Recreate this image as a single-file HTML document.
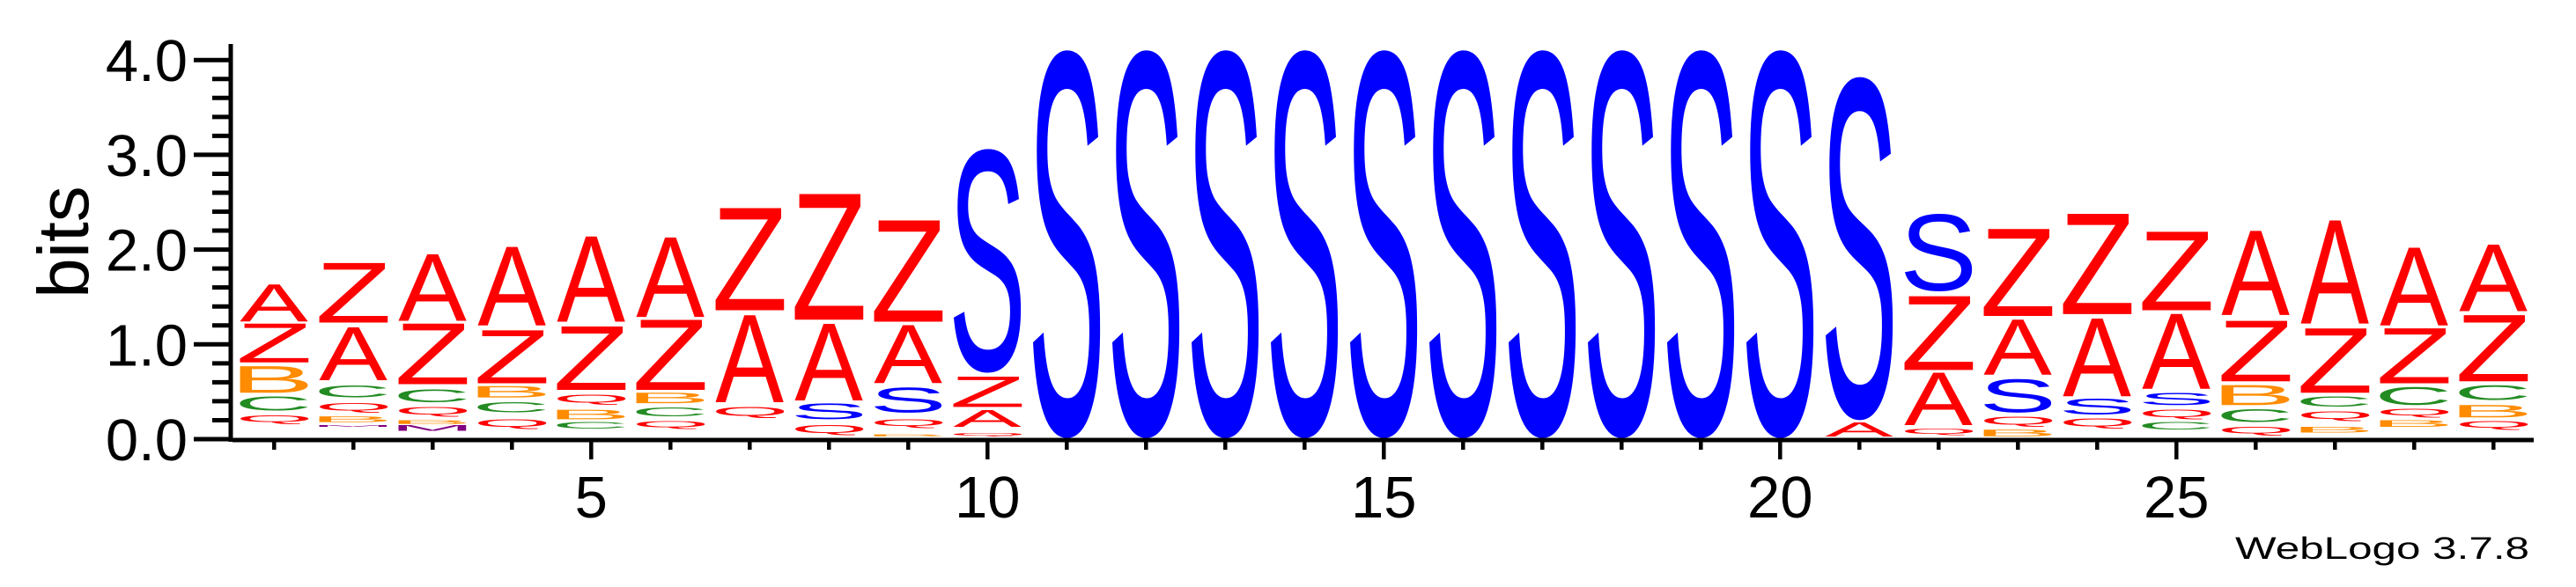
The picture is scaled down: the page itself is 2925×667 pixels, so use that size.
<!DOCTYPE html>
<html><head><meta charset="utf-8"><style>
html,body{margin:0;padding:0;background:#fff;}
svg{display:block;}
</style></head><body>
<svg id="chart" width="2925" height="667" viewBox="0 0 2925 667" xmlns="http://www.w3.org/2000/svg">
<rect width="2925" height="667" fill="#fff"/>
<g id="letters"></g>
<g id="axes"></g>
<text x="100" y="275" font-family="Liberation Sans, sans-serif" font-size="82" text-anchor="middle" transform="rotate(-90 100 275)" fill="#000">bits</text>
<text x="2872" y="635" font-family="Liberation Sans, sans-serif" font-size="35" text-anchor="end" textLength="334" lengthAdjust="spacingAndGlyphs" fill="#000">WebLogo 3.7.8</text>
</svg>
<script>
// Data: one stack per position, letters bottom-to-top with [bottom, top] in bits
const positions = [1,2,3,4,5,6,7,8,9,10,11,12,13,14,15,16,17,18,19,20,21,22,23,24,25,26,27,28,29];
const stackLetters = [
 ["Q","C","B","Z","A"],
 ["M","B","Q","C","A","Z"],
 ["M","B","Q","C","Z","A"],
 ["Q","C","B","Z","A"],
 ["C","B","Q","Z","A"],
 ["Q","C","B","Z","A"],
 ["Q","A","Z"],
 ["Q","S","A","Z"],
 ["B","Q","S","A","Z"],
 ["Q","A","Z","S"],
 ["S"],["S"],["S"],["S"],["S"],["S"],["S"],["S"],["S"],["S"],
 ["A","S"],
 ["Q","A","Z","S"],
 ["B","Q","S","A","Z"],
 ["Q","S","A","Z"],
 ["C","Q","S","A","Z"],
 ["Q","C","B","Z","A"],
 ["B","Q","C","Z","A"],
 ["B","Q","C","Z","A"],
 ["Q","B","C","Z","A"]
];
const stackBottoms = [
 [0.16,0.30,0.49,0.81,1.24],
 [0.13,0.18,0.28,0.44,0.62,1.23],
 [0.09,0.16,0.24,0.39,0.58,1.25],
 [0.11,0.28,0.44,0.59,1.20],
 [0.11,0.21,0.36,0.52,1.24],
 [0.11,0.24,0.38,0.52,1.29],
 [0.22,0.39,1.36],
 [0.04,0.21,0.41,1.26],
 [0.03,0.12,0.28,0.59,1.24],
 [0.03,0.13,0.34,0.70],
 [0.01],[0.01],[0.01],[0.01],[0.01],[0.01],[0.01],[0.01],[0.01],[0.01],
 [0.03,0.20],
 [0.04,0.15,0.73,1.56],
 [0.03,0.13,0.28,0.68,1.30],
 [0.11,0.26,0.45,1.32],
 [0.10,0.21,0.36,0.53,1.36],
 [0.04,0.18,0.36,0.61,1.31],
 [0.07,0.19,0.34,0.49,1.22],
 [0.13,0.23,0.36,0.59,1.20],
 [0.10,0.23,0.41,0.61,1.35]
];
const stackTops = [
 [0.25,0.45,0.77,1.22,1.63],
 [0.15,0.24,0.38,0.57,1.18,1.86],
 [0.15,0.20,0.34,0.53,1.22,1.95],
 [0.21,0.39,0.56,1.15,2.03],
 [0.18,0.31,0.47,1.19,2.14],
 [0.19,0.34,0.49,1.26,2.13],
 [0.34,1.31,2.44],
 [0.15,0.38,1.22,2.59],
 [0.05,0.21,0.55,1.20,2.31],
 [0.07,0.31,0.66,3.10],
 [4.17],[4.17],[4.17],[4.17],[4.17],[4.17],[4.17],[4.17],[4.17],[4.17],
 [0.18,3.88],
 [0.11,0.70,1.51,2.39],
 [0.10,0.24,0.64,1.26,2.22],
 [0.22,0.43,1.27,2.38],
 [0.18,0.31,0.49,1.32,2.19],
 [0.13,0.32,0.57,1.25,2.20],
 [0.13,0.29,0.45,1.17,2.31],
 [0.20,0.32,0.55,1.17,2.02],
 [0.19,0.36,0.57,1.31,2.05]
];
const yTicks = [0,1,2,3,4];
const yTickLabels = ["0.0","1.0","2.0","3.0","4.0"];
const xLabelPositions = [5,10,15,20,25];
const xLabels = ["5","10","15","20","25"];
const letterColors = {A:"#ff0000",Z:"#ff0000",Q:"#ff0000",S:"#0000ff",C:"#228b22",B:"#ff8c00",M:"#800080"};

const NS = "http://www.w3.org/2000/svg";
function xPos(p){ return 221.3 + 90*p; }
function yPos(b){ return 499 - 107.7*b; }

const cv = document.createElement("canvas").getContext("2d");
cv.font = "100px 'Liberation Sans', sans-serif";
const metrics = {};
function ink(ch){
  if(!metrics[ch]){
    const m = cv.measureText(ch);
    metrics[ch] = {l:m.actualBoundingBoxLeft, r:m.actualBoundingBoxRight, a:m.actualBoundingBoxAscent, d:m.actualBoundingBoxDescent};
  }
  return metrics[ch];
}

const lg = document.getElementById("letters");
const LW = 78;
positions.forEach((p,i)=>{
  const col = document.createElementNS(NS,"g");
  
  
  lg.appendChild(col);
  stackLetters[i].forEach((ch,j)=>{
    const yt = yPos(stackTops[i][j]), yb = yPos(stackBottoms[i][j]);
    const h = yb - yt;
    if(h <= 0) return;
    const m = ink(ch);
    const iw = m.l + m.r, ih = m.a + m.d;
    const t = document.createElementNS(NS,"text");
    
    
    t.setAttribute("font-family","Liberation Sans, sans-serif");
    t.setAttribute("font-size","100");
    t.setAttribute("fill", letterColors[ch]);
    t.setAttribute("transform", `translate(${xPos(p)-LW/2},${yt}) scale(${LW/iw},${h/ih}) translate(${m.l},${m.a})`);
    t.textContent = ch;
    col.appendChild(t);
  });
});

const ax = document.getElementById("axes");
function line(x1,y1,x2,y2,w,name){
  const l = document.createElementNS(NS,"line");
  
  
  l.setAttribute("x1",x1);l.setAttribute("y1",y1);l.setAttribute("x2",x2);l.setAttribute("y2",y2);
  l.setAttribute("stroke","#000");l.setAttribute("stroke-width",w);
  ax.appendChild(l);
}
line(262,50,262,502,5,'y-axis-line');
line(264,500,2877,500,5,'x-axis-line');
for(let k=0;k<=20;k++){
  const b = k*0.2, y = yPos(b);
  const major = (k%5===0);
  line(major?220:241, y, 262, y, 5, major?'y-major-tick':'y-minor-tick');
}
yTicks.forEach((v,i)=>{
  const t = document.createElementNS(NS,"text");
  
  
  t.setAttribute("x",213);t.setAttribute("y",yPos(v)+24);
  t.setAttribute("font-family","Liberation Sans, sans-serif");t.setAttribute("font-size","67");
  t.setAttribute("text-anchor","end");
  t.textContent = yTickLabels[i];
  ax.appendChild(t);
});
positions.forEach(p=>{
  const major = (p%5===0);
  line(xPos(p),500,xPos(p),major?522:511,4.5,major?'x-major-tick':'x-minor-tick');
});
xLabelPositions.forEach((p,i)=>{
  const t = document.createElementNS(NS,"text");
  
  
  t.setAttribute("x",xPos(p));t.setAttribute("y",588);
  t.setAttribute("font-family","Liberation Sans, sans-serif");t.setAttribute("font-size","67");
  t.setAttribute("text-anchor","middle");
  t.textContent = xLabels[i];
  ax.appendChild(t);
});
</script>
</body></html>
